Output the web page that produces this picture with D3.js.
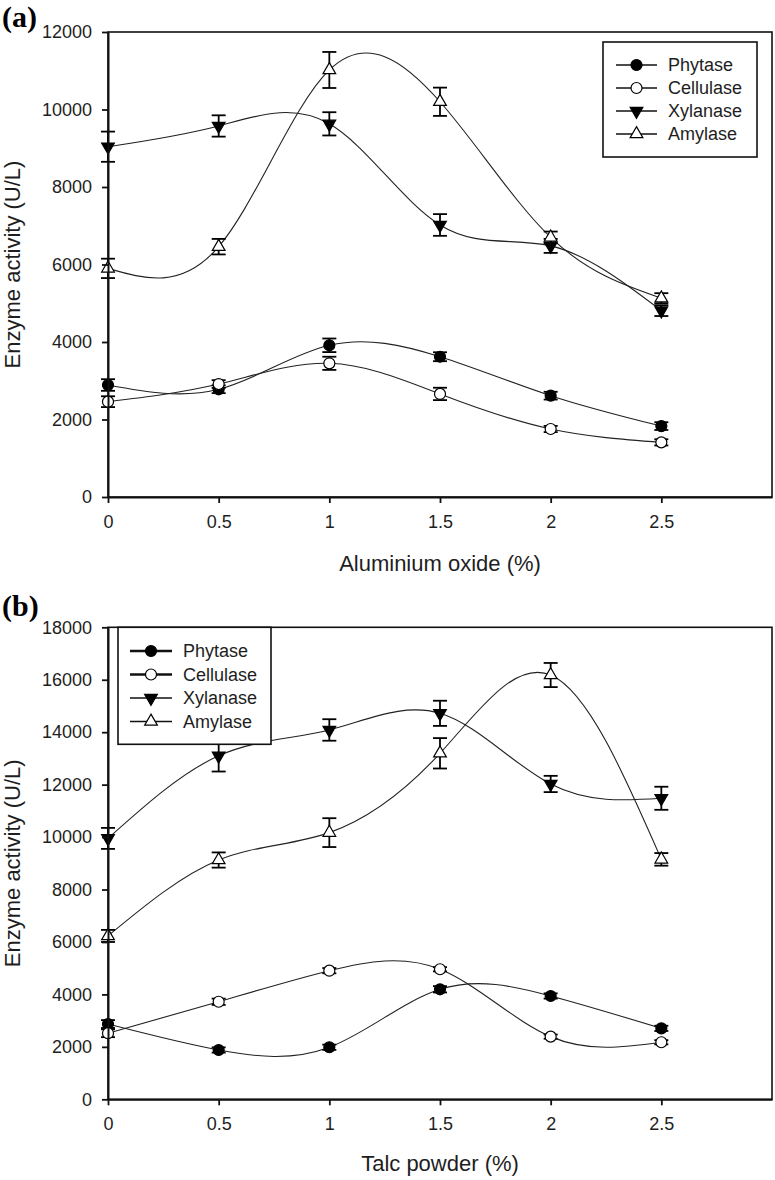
<!DOCTYPE html>
<html><head><meta charset="utf-8">
<script src="https://cdn.jsdelivr.net/npm/d3@7"></script>
<style>
html,body{margin:0;padding:0;background:#fff;}
svg{display:block;}
</style></head>
<body>
<script>
// ---------- data ----------
const xValues = [0, 0.5, 1, 1.5, 2, 2.5];
const xTicks = [0, 0.5, 1, 1.5, 2, 2.5];
const seriesNames = ["Phytase", "Cellulase", "Xylanase", "Amylase"];

// Panel (a): Aluminium oxide
const aPhytase = [2890, 2780, 3915, 3620, 2615, 1830];
const aPhytaseErr = [150, 100, 175, 115, 100, 100];
const aCellulase = [2460, 2915, 3450, 2660, 1755, 1410];
const aCellulaseErr = [140, 100, 170, 160, 80, 80];
const aXylanase = [9040, 9575, 9630, 7020, 6480, 4810];
const aXylanaseErr = [390, 275, 300, 280, 180, 140];
const aAmylase = [5900, 6460, 11020, 10200, 6700, 5130];
const aAmylaseErr = [250, 200, 465, 365, 150, 130];
const aYTicks = [0, 2000, 4000, 6000, 8000, 10000, 12000];

// Panel (b): Talc powder
const bPhytase = [2870, 1880, 1985, 4195, 3940, 2705];
const bPhytaseErr = [150, 100, 100, 120, 100, 100];
const bCellulase = [2520, 3720, 4905, 4960, 2390, 2175];
const bCellulaseErr = [150, 120, 100, 80, 80, 80];
const bXylanase = [9950, 13100, 14085, 14720, 12025, 11480];
const bXylanaseErr = [400, 600, 410, 480, 310, 440];
const bAmylase = [6230, 9125, 10170, 13195, 16180, 9150];
const bAmylaseErr = [230, 290, 550, 580, 460, 240];
const bYTicks = [0, 2000, 4000, 6000, 8000, 10000, 12000, 14000, 16000, 18000];

// ---------- drawing ----------
const W = 775, H = 1180;
const SANS = '"Liberation Sans",Arial,sans-serif';
const SERIF = '"Liberation Serif","Times New Roman",serif';
const svg = d3.select("body").append("svg").attr("width", W).attr("height", H);

const markerStyles = [
  {shape: "circle", fill: "#000"},
  {shape: "circle", fill: "#fff"},
  {shape: "down", fill: "#000"},
  {shape: "up", fill: "#fff"}
];

function drawMarker(g, x, y, st) {
  if (st.shape === "circle") {
    g.append("circle").attr("cx", x).attr("cy", y).attr("r", 5.5)
      .attr("fill", st.fill).attr("stroke", "#000").attr("stroke-width", 1.2);
  } else {
    const p = d3.symbol().type(d3.symbolTriangle).size(70)();
    g.append("path").attr("d", p)
      .attr("transform", `translate(${x},${y})` + (st.shape === "down" ? " rotate(180)" : ""))
      .attr("fill", st.fill).attr("stroke", "#000").attr("stroke-width", 1.2);
  }
}

function txt(sel, size) {
  return sel.style("font-family", SANS).style("font-size", size + "px").style("fill", "#1e1e1e");
}

function panel(cfg) {
  const x = d3.scaleLinear().domain([0, 3]).range([108, 772]);
  const y = d3.scaleLinear().domain(cfg.yDomain).range([cfg.bottom, cfg.top]);
  const g = svg.append("g");

  // frame
  g.append("rect").attr("x", x(0)).attr("y", y(cfg.yDomain[1]))
    .attr("width", x(3) - x(0)).attr("height", y(0) - y(cfg.yDomain[1]))
    .attr("fill", "none").attr("stroke", "#111").attr("stroke-width", 1.6);

  // curves
  const line = d3.line().x(d => x(d[0])).y(d => y(d[1])).curve(d3.curveNatural);
  cfg.series.forEach((s) => {
    g.append("path").datum(xValues.map((xv, k) => [xv, s.v[k]]))
      .attr("d", line).attr("fill", "none").attr("stroke", "#222").attr("stroke-width", 1.1);
  });
  // error bars
  cfg.series.forEach((s) => {
    xValues.forEach((xv, k) => {
      const cx = x(xv), y1 = y(s.v[k] + s.e[k]), y2 = y(s.v[k] - s.e[k]);
      g.append("line").attr("x1", cx).attr("x2", cx).attr("y1", y1).attr("y2", y2)
        .attr("stroke", "#000").attr("stroke-width", 1.8);
      [y1, y2].forEach(yy => g.append("line").attr("x1", cx - 7).attr("x2", cx + 7)
        .attr("y1", yy).attr("y2", yy).attr("stroke", "#000").attr("stroke-width", 1.8));
    });
  });
  // markers
  cfg.series.forEach((s, i) => {
    xValues.forEach((xv, k) => drawMarker(g, x(xv), y(s.v[k]), markerStyles[i]));
  });

  // axes
  const ax = g.append("g").attr("transform", `translate(0,${y(0)})`)
    .call(d3.axisBottom(x).tickValues(xTicks).tickSize(6).tickPadding(12).tickSizeOuter(0)
      .tickFormat(d3.format("")));
  const ay = g.append("g").attr("transform", `translate(${x(0)},0)`)
    .call(d3.axisLeft(y).tickValues(cfg.yTicks).tickSize(6).tickPadding(10).tickSizeOuter(0)
      .tickFormat(d3.format("d")));
  [ax, ay].forEach(a => {
    a.select(".domain").attr("stroke", "#111").attr("stroke-width", 2);
    a.selectAll(".tick line").attr("stroke", "#111").attr("stroke-width", 1.8);
    txt(a.selectAll("text"), 18);
  });

  // axis titles
  txt(g.append("text").attr("x", (x(0) + x(3)) / 2).attr("y", cfg.xTitleY)
    .attr("text-anchor", "middle"), 22).text(cfg.xTitle);
  txt(g.append("text").attr("transform", `translate(20,${(y(0) + y(cfg.yDomain[1])) / 2}) rotate(-90)`)
    .attr("text-anchor", "middle"), 22).text("Enzyme activity (U/L)");

  // panel label
  g.append("text").attr("x", 2).attr("y", cfg.labelY)
    .style("font-family", SERIF).style("font-weight", "bold").style("font-size", "30px")
    .style("fill", "#000").text(cfg.label);

  // legend
  const L = cfg.legend;
  g.append("rect").attr("x", L.x).attr("y", L.y).attr("width", L.w).attr("height", L.h)
    .attr("fill", "#fff").attr("stroke", "#111").attr("stroke-width", 1.6);
  seriesNames.forEach((name, i) => {
    const yy = L.rows[i];
    g.append("line").attr("x1", L.lx1).attr("x2", L.lx2).attr("y1", yy).attr("y2", yy)
      .attr("stroke", "#111").attr("stroke-width", L.lw[i]);
    drawMarker(g, (L.lx1 + L.lx2) / 2, yy, markerStyles[i]);
    txt(g.append("text").attr("x", L.tx).attr("y", yy).attr("dy", "0.36em"), 18).text(name);
  });
}

panel({
  yDomain: [0, 12000], top: 32, bottom: 497, yTicks: aYTicks,
  xTitle: "Aluminium oxide (%)", xTitleY: 571, label: "(a)", labelY: 27,
  series: [
    {v: aPhytase, e: aPhytaseErr}, {v: aCellulase, e: aCellulaseErr},
    {v: aXylanase, e: aXylanaseErr}, {v: aAmylase, e: aAmylaseErr}
  ],
  legend: {x: 603, y: 42, w: 154, h: 115, rows: [65, 88, 111, 134],
    lx1: 616, lx2: 657, tx: 668, lw: [1.3, 1.3, 1.3, 1.3]}
});

panel({
  yDomain: [0, 18000], top: 627.3, bottom: 1099.3, yTicks: bYTicks,
  xTitle: "Talc powder (%)", xTitleY: 1171, label: "(b)", labelY: 616,
  series: [
    {v: bPhytase, e: bPhytaseErr}, {v: bCellulase, e: bCellulaseErr},
    {v: bXylanase, e: bXylanaseErr}, {v: bAmylase, e: bAmylaseErr}
  ],
  legend: {x: 118, y: 627.3, w: 153, h: 117, rows: [651, 674.5, 698, 721.5],
    lx1: 130, lx2: 172, tx: 183, lw: [2.6, 2.6, 1.3, 1.3]}
});
</script>
</body></html>
